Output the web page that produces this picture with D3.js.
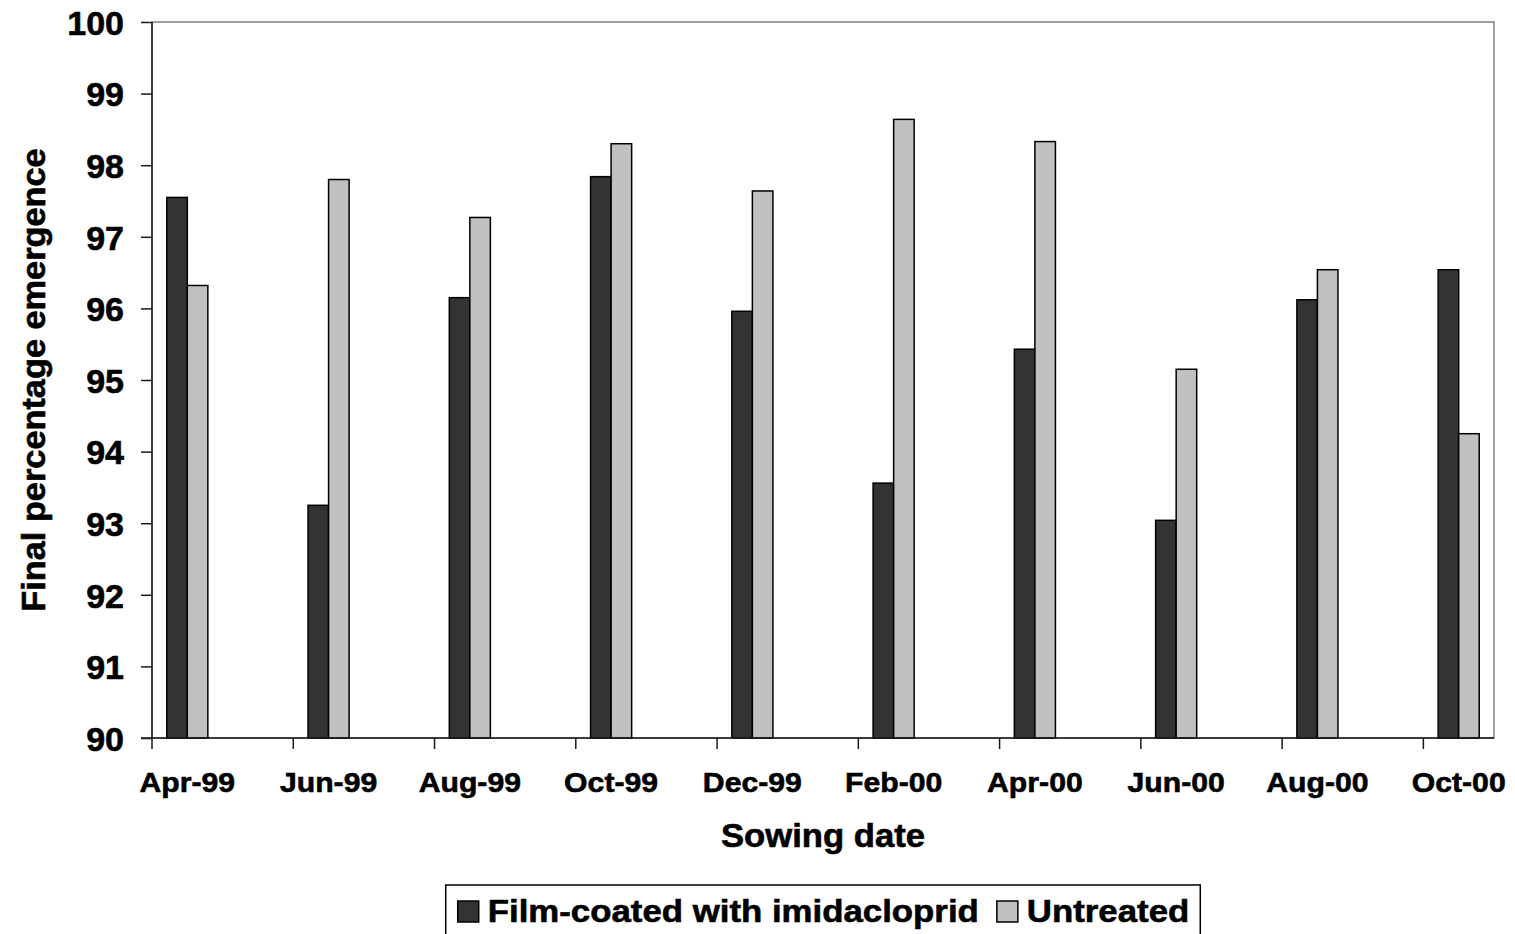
<!DOCTYPE html>
<html>
<head>
<meta charset="utf-8">
<script src="https://cdn.jsdelivr.net/npm/d3@7"></script>
<style>
  html, body { margin: 0; padding: 0; background: #fff; }
  svg { display: block; }
  text { font-family: "Liberation Sans", Arial, sans-serif; font-weight: bold; fill: #000;
         stroke: #000; stroke-width: 0.6px; }
</style>
</head>
<body>
<svg id="chart" width="1515" height="934"></svg>
<script>
// Sowing dates (every second month, Apr 1999 – Oct 2000)
const sowingDates = ["Apr-99", "Jun-99", "Aug-99", "Oct-99", "Dec-99",
                     "Feb-00", "Apr-00", "Jun-00", "Aug-00", "Oct-00"];
// Final percentage emergence per treatment
const filmCoated = [97.55, 93.25, 96.15, 97.84, 95.96, 93.56, 95.43, 93.04, 96.12, 96.54];
const untreated  = [96.32, 97.80, 97.27, 98.30, 97.64, 98.64, 98.33, 95.15, 96.54, 94.25];
const seriesNames = ["Film-coated with imidacloprid", "Untreated"];
const yTicks = [90, 91, 92, 93, 94, 95, 96, 97, 98, 99, 100];

const colors = ["#333333", "#c0c0c0"];

const margin = { top: 22, left: 152, right: 21, bottom: 196 };
const W = 1515, H = 934;
const iw = W - margin.left - margin.right;
const ih = H - margin.top - margin.bottom;

const svg = d3.select("#chart");
const g = svg.append("g").attr("transform", `translate(${margin.left},${margin.top})`);

// Monthly date axis: one band per month from Apr-99 to Oct-00
const fmt = d3.timeFormat("%b-%y");
const months = d3.timeMonth.range(new Date(1999, 3, 1), new Date(2000, 10, 1)).map(fmt);
const x = d3.scaleBand().domain(months).range([0, iw]).paddingInner(0).paddingOuter(0);
const groupW = x.bandwidth() / 1.72;
const xs = d3.scaleBand().domain([0, 1]).range([0, groupW]);

const y = d3.scaleLinear().domain([90, 100]).range([ih, 0]);

// plot area border (top/right grey)
g.append("rect").attr("x", 0).attr("y", 0).attr("width", iw).attr("height", ih)
  .attr("fill", "none").attr("stroke", "#808080").attr("stroke-width", 1.5);

// bars
const data = sowingDates.map((d, i) => ({ d, v: [filmCoated[i], untreated[i]] }));
const grp = g.selectAll(".grp").data(data).join("g")
  .attr("transform", d => `translate(${x(d.d) + (x.bandwidth() - groupW) / 2},0)`);
grp.selectAll("rect").data(d => d.v).join("rect")
  .attr("x", (v, i) => xs(i))
  .attr("width", xs.bandwidth())
  .attr("y", v => y(v))
  .attr("height", v => ih - y(v))
  .attr("fill", (v, i) => colors[i])
  .attr("stroke", "#000").attr("stroke-width", 1.5);

// y axis
const yAxis = g.append("g").call(d3.axisLeft(y).tickValues(yTicks).tickSize(11).tickPadding(17).tickFormat(d3.format("d")));
yAxis.select(".domain").attr("stroke", "#1a1a1a").attr("stroke-width", 1.5).attr("d", `M0,0V${ih}`);
yAxis.selectAll(".tick line").attr("stroke", "#1a1a1a").attr("stroke-width", 1.5);
yAxis.selectAll(".tick text").attr("font-size", 34).attr("dy", "0.36em")
  .style("font-family", "Liberation Sans, Arial, sans-serif").style("font-weight", "bold");

// x axis: ticks at the start of each sowing-date month, labels centred on the month
const xAxis = g.append("g").attr("transform", `translate(0,${ih})`);
xAxis.append("line").attr("x1", -11).attr("x2", iw).attr("stroke", "#1a1a1a").attr("stroke-width", 1.5);
xAxis.selectAll(".xt").data(sowingDates).join("line")
  .attr("x1", d => x(d)).attr("x2", d => x(d)).attr("y1", 0).attr("y2", 11)
  .attr("stroke", "#1a1a1a").attr("stroke-width", 1.5);
xAxis.selectAll(".xl").data(sowingDates).join("text")
  .attr("transform", d => `translate(${x(d) + x.bandwidth() / 2},54) scale(1.06,1)`)
  .attr("text-anchor", "middle").attr("font-size", 28.5).text(d => d);

// axis titles
svg.append("text")
  .attr("transform", `translate(${margin.left + iw / 2},847) scale(1.05,1)`)
  .attr("text-anchor", "middle").attr("font-size", 33).text("Sowing date");
svg.append("text")
  .attr("transform", `translate(45,380) rotate(-90) scale(1.04,1)`)
  .attr("text-anchor", "middle").attr("font-size", 33).text("Final percentage emergence");

// legend
const lg = svg.append("g");
const box = lg.append("rect").attr("fill", "#fff").attr("stroke", "#000").attr("stroke-width", 1.5);
const sx = 1.088, fs = 32, sw = 21;
let cx = 12;
seriesNames.forEach((name, i) => {
  const it = lg.append("g");
  it.append("rect").attr("x", cx).attr("y", 16).attr("width", sw).attr("height", sw)
    .attr("fill", colors[i]).attr("stroke", "#000").attr("stroke-width", 1.5);
  const t = it.append("text").attr("transform", `translate(${cx + sw + 9},37) scale(${sx},1)`)
    .attr("font-size", fs).text(name);
  cx += sw + 9 + t.node().getComputedTextLength() * sx + 18;
});
const lw = cx - 18 + 11;
box.attr("x", 0).attr("y", 0).attr("width", lw).attr("height", 70);
lg.attr("transform", `translate(${margin.left + iw / 2 - lw / 2},885)`);
</script>
</body>
</html>
